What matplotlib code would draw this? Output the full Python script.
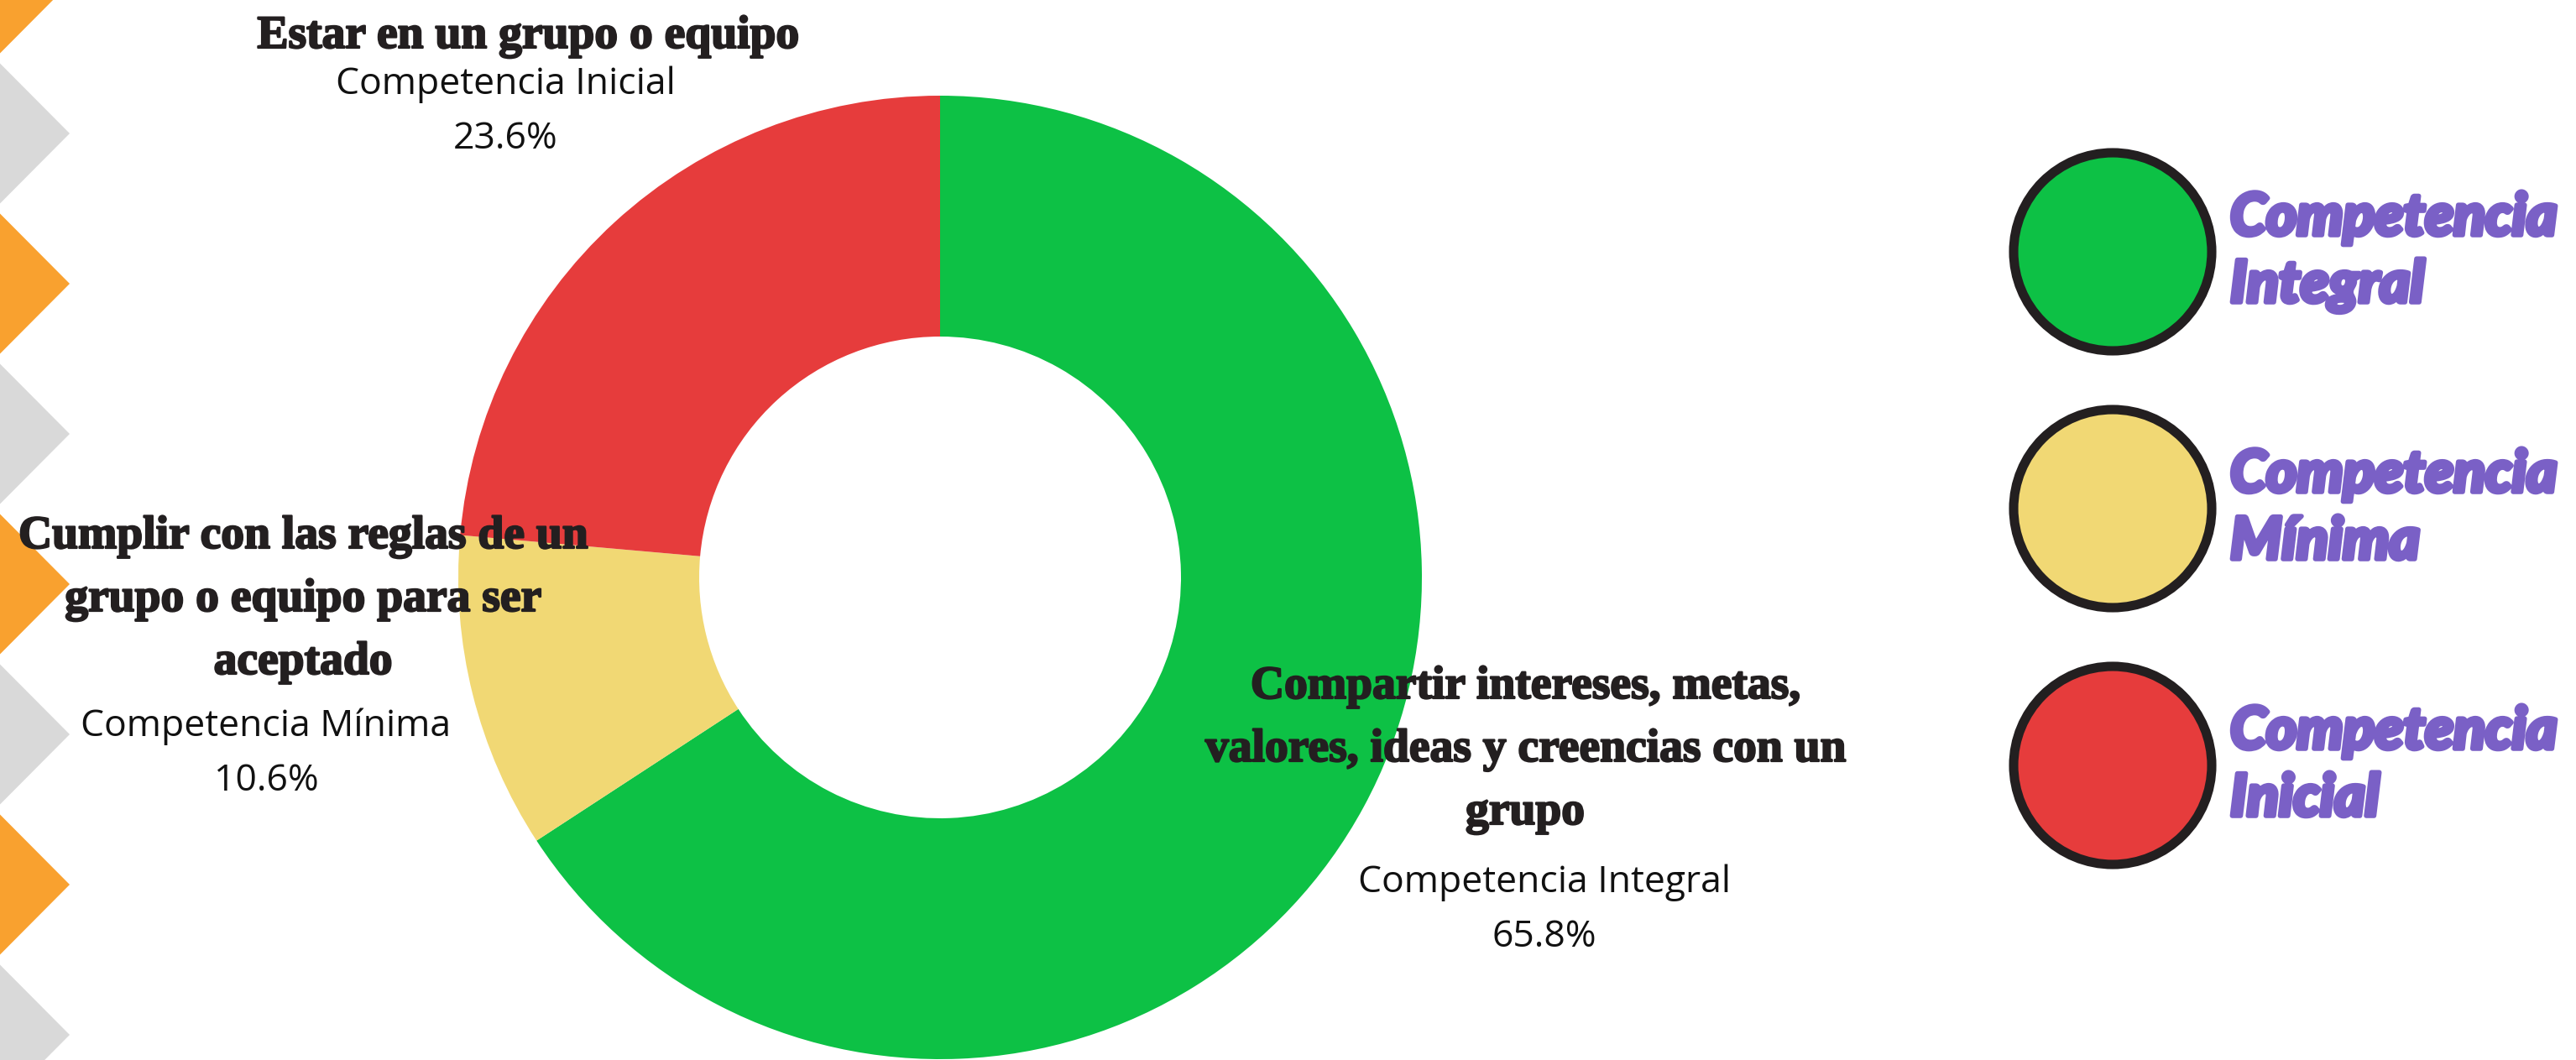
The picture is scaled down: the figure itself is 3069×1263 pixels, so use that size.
import numpy as np
import matplotlib
matplotlib.use("Agg")
import matplotlib.pyplot as plt
import matplotlib.patheffects as pe
from matplotlib.patches import Polygon, Circle

# ---------------- data ----------------
categories = ["Competencia Integral", "Competencia Mínima", "Competencia Inicial"]
values = [65.8, 10.6, 23.6]
descriptions = [
    "Compartir intereses, metas,\nvalores, ideas y creencias con un\ngrupo",
    "Cumplir con las reglas de un\ngrupo o equipo para ser\naceptado",
    "Estar en un grupo o equipo",
]
legend_labels = ["Competencia\nIntegral", "Competencia\nMínima", "Competencia\nInicial"]
colors = ["#0DC145", "#F1D874", "#E63C3C"]

# ---------------- layout ----------------
W, H, DPI = 3069, 1263, 100
fig = plt.figure(figsize=(W / DPI, H / DPI), dpi=DPI)
fig.patch.set_facecolor("white")

# background decoration (pixel coordinates, y downwards)
bg = fig.add_axes([0, 0, 1, 1], zorder=0)
bg.set_xlim(0, W); bg.set_ylim(H, 0); bg.axis("off")
period, half, tipx = 179, 83.5, 83
for k, tip in enumerate(np.arange(-20, H + period, period)):
    c = "#F9A12F" if k % 2 == 0 else "#D9D9D9"
    bg.add_patch(Polygon([(0, tip - half), (tipx, tip), (0, tip + half)],
                         closed=True, facecolor=c, edgecolor="none"))

# donut
cx, cy, R = 1120, 688, 574
pax = fig.add_axes([(cx - R) / W, (H - cy - R) / H, 2 * R / W, 2 * R / H], zorder=1)
pax.pie(values, colors=colors, startangle=90, counterclock=False, radius=1,
        wedgeprops=dict(width=0.5, linewidth=0, edgecolor="none"))
pax.set_xlim(-1, 1); pax.set_ylim(-1, 1); pax.set_aspect("equal"); pax.axis("off")

# foreground text layer
fg = fig.add_axes([0, 0, 1, 1], zorder=2)
fg.set_xlim(0, W); fg.set_ylim(H, 0); fg.axis("off"); fg.patch.set_alpha(0)

# label placement: (title center x, first title baseline, subtitle center x, subtitle baseline)
label_pos = [(1817, 832, 1840, 1063), (361, 653, 317, 877), (629, 57, 602, 112)]
title_step, sub_step = 75, 65
title_font = dict(family="Liberation Serif", fontweight="bold", fontsize=40, color="#231F20",
                  path_effects=[pe.withStroke(linewidth=1.6, foreground="#231F20")])
sub_font = dict(family="Open Sans", fontsize=32, color="#111111")
for cat, val, desc, (tx, ty, sx, sy) in zip(categories, values, descriptions, label_pos):
    for i, line in enumerate(desc.split("\n")):
        fg.text(tx, ty + i * title_step, line, ha="center", va="baseline", **title_font)
    fg.text(sx, sy, cat, ha="center", va="baseline", **sub_font)
    fg.text(sx, sy + sub_step, f"{val:.1f}%", ha="center", va="baseline", **sub_font)

# legend
leg_x, leg_y0, leg_step, leg_r = 2517, 300, 306, 118
for i, (lab, col) in enumerate(zip(legend_labels, colors)):
    y = leg_y0 + i * leg_step
    fg.add_patch(Circle((leg_x, y), leg_r, facecolor=col, edgecolor="#231F20", linewidth=8))
    l1, l2 = lab.split("\n")
    kw = dict(family="Lato", fontweight="black", style="italic", fontsize=50,
              color="#7A60C6", ha="left", va="baseline",
              path_effects=[pe.withStroke(linewidth=4, foreground="#7A60C6")])
    fg.text(2657, y - 20, l1, **kw)
    fg.text(2657, y + 60, l2, **kw)

fig.savefig("out.png", dpi=DPI, facecolor="white")
